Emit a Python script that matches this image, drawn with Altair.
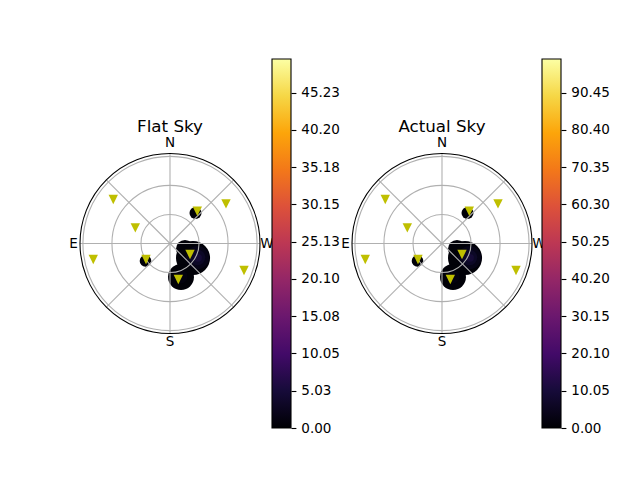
import math
import altair as alt
import pandas as pd

# ---------------- data ----------------
TITLES = ["Flat Sky", "Actual Sky"]
CB_MAX = [49.75, 99.5]
CB_LABELS = [
    ["0.00", "5.03", "10.05", "15.08", "20.10", "25.13", "30.15", "35.18", "40.20", "45.23"],
    ["0.00", "10.05", "20.10", "30.15", "40.20", "50.25", "60.30", "70.35", "80.40", "90.45"],
]
DIR_LABELS = ["N", "E", "S", "W"]
DIR_AZ = [0, 90, 180, 270]
GRID_R = [30, 60, 90]
GRID_AZ = [0, 45, 90, 135, 180, 225, 270, 315]
RMAX = 93.0

# marker positions (azimuth deg, zenith deg)
SAT_AZ = [52.2, 65.8, 101.8, 123.7, 319.8, 305.3, 241.2, 193.0, 250.0]
SAT_ZEN = [74.2, 39.3, 81.0, 29.8, 43.7, 70.9, 23.6, 38.2, 81.4]

# filled contour regions (azimuth deg, zenith deg, radius deg, level)
BLOB_AZ = [320.1, 125.5, 237.8, 198.2, 249.9, 198.0, 243.0, 243.0, 243.0]
BLOB_ZEN = [41.1, 31.1, 28.1, 36.4, 16.5, 36.0, 31.9, 31.9, 32.5]
BLOB_RAD = [6.2, 6.0, 17.6, 13.4, 9.3, 7.0, 12.0, 8.0, 4.0]
BLOB_VAL = [
    [0.4, 0.4, 0.4, 0.4, 0.4, 1.2, 2.0, 3.3, 4.6],
    [0.8, 0.8, 0.8, 0.8, 0.8, 2.4, 4.0, 6.6, 9.2],
]

INFERNO = ["#000004", "#160b39", "#420a68", "#6a176e", "#932667", "#bc3754",
           "#dd513a", "#f37819", "#fca50a", "#f6d746", "#fcffa4"]

# ---------------- layout ----------------
FONT = "DejaVu Sans"
PW, PH = 251, 369          # polar panel
CBW = 19                   # colorbar width
RPX = 90.0                 # outer circle radius in px
K = RPX / RMAX             # px per degree
CX = [149, 151]            # centre offset from panel left, per panel
DIR_PAD_PX = [100.5, 96.5, 98.0, 97.0]   # label distance from centre (N, E, S, W)
TITLE_PX = 112.0

ys = alt.Scale(domain=[-PH / 2 / K, PH / 2 / K], nice=False, zero=False)
# Vega circle symbol: radius = sqrt(size)/2
ss = alt.Scale(type="pow", exponent=2, domain=[0, RMAX], range=[0, (2 * RPX) ** 2],
               zero=True, nice=False)

XCALC = "-datum.r*sin(datum.az*PI/180)"
YCALC = "datum.r*cos(datum.az*PI/180)"


def polar_panel(i):
    xs = alt.Scale(domain=[-CX[i] / K, (PW - CX[i]) / K], nice=False, zero=False)
    blobs = pd.DataFrame({"az": BLOB_AZ, "r": BLOB_ZEN, "rad": BLOB_RAD, "v": BLOB_VAL[i]})
    sats = pd.DataFrame({"az": SAT_AZ, "r": SAT_ZEN})
    rings = pd.DataFrame({"rad": GRID_R})
    frame = pd.DataFrame({"rad": [RMAX]})
    spokes = pd.DataFrame({"az": GRID_AZ})
    dirs = pd.DataFrame({"az": DIR_AZ, "lab": DIR_LABELS, "r": [p / K for p in DIR_PAD_PX]})
    title = pd.DataFrame({"t": [TITLES[i]]})

    blob_layer = alt.Chart(blobs).transform_calculate(x=XCALC, y=YCALC).mark_point(
        shape="circle", filled=True, opacity=1, strokeWidth=0
    ).encode(
        x=alt.X("x:Q", scale=xs, axis=None),
        y=alt.Y("y:Q", scale=ys, axis=None),
        size=alt.Size("rad:Q", scale=ss, legend=None),
        color=alt.Color("v:Q", scale=alt.Scale(scheme="inferno", domain=[0, CB_MAX[i]]), legend=None),
    )

    ring_layer = alt.Chart(rings).transform_calculate(x="0", y="0").mark_point(
        shape="circle", filled=False, color="#b0b0b0", strokeWidth=1.1, opacity=1
    ).encode(
        x=alt.X("x:Q", scale=xs, axis=None),
        y=alt.Y("y:Q", scale=ys, axis=None),
        size=alt.Size("rad:Q", scale=ss, legend=None),
    )

    spoke_layer = alt.Chart(spokes).transform_calculate(
        x0="0", y0="0",
        x1=f"-{RMAX}*sin(datum.az*PI/180)", y1=f"{RMAX}*cos(datum.az*PI/180)"
    ).mark_rule(color="#b0b0b0", strokeWidth=1.1).encode(
        x=alt.X("x0:Q", scale=xs, axis=None),
        y=alt.Y("y0:Q", scale=ys, axis=None),
        x2="x1:Q", y2="y1:Q",
    )

    frame_layer = alt.Chart(frame).transform_calculate(x="0", y="0").mark_point(
        shape="circle", filled=False, color="black", strokeWidth=1.1, opacity=1
    ).encode(
        x=alt.X("x:Q", scale=xs, axis=None),
        y=alt.Y("y:Q", scale=ys, axis=None),
        size=alt.Size("rad:Q", scale=ss, legend=None),
    )

    sat_layer = alt.Chart(sats).transform_calculate(x=XCALC, y=YCALC).mark_point(
        shape="M-1,-1L1,-1L0,1Z", filled=True, color="#bfbf00", opacity=1, size=88, strokeWidth=0
    ).encode(
        x=alt.X("x:Q", scale=xs, axis=None),
        y=alt.Y("y:Q", scale=ys, axis=None),
    )

    dir_layer = alt.Chart(dirs).transform_calculate(x=XCALC, y=YCALC).mark_text(
        font=FONT, fontSize=13.5, color="black", align="center", baseline="middle"
    ).encode(
        x=alt.X("x:Q", scale=xs, axis=None),
        y=alt.Y("y:Q", scale=ys, axis=None),
        text="lab:N",
    )

    title_layer = alt.Chart(title).transform_calculate(x="0", y=f"{TITLE_PX / K}").mark_text(
        font=FONT, fontSize=16.7, color="black", align="center", baseline="alphabetic"
    ).encode(
        x=alt.X("x:Q", scale=xs, axis=None),
        y=alt.Y("y:Q", scale=ys, axis=None),
        text="t:N",
    )

    return alt.layer(
        blob_layer, ring_layer, spoke_layer, frame_layer, sat_layer, dir_layer, title_layer
    ).properties(width=PW, height=PH)


def colorbar(i):
    df = pd.DataFrame({"lo": [0.0], "hi": [CB_MAX[i]]})
    n = len(INFERNO) - 1
    grad = alt.Gradient(
        gradient="linear",
        stops=[alt.GradientStop(offset=j / n, color=c) for j, c in enumerate(INFERNO)],
        x1=0, x2=0, y1=1, y2=0,
    )
    return alt.Chart(df).mark_rect(fill=grad, stroke="black", strokeWidth=1.1).encode(
        x=alt.value(0), x2=alt.value(CBW),
        y=alt.Y("lo:Q", scale=alt.Scale(domain=[0, CB_MAX[i]], nice=False, zero=True),
                axis=alt.Axis(orient="right", values=[float(s) for s in CB_LABELS[i]], format=".2f",
                              title=None, grid=False, domain=False, tickColor="black", tickSize=4.9,
                              tickWidth=1.1, labelPadding=4.9, labelColor="black", labelFont=FONT,
                              labelFontSize=13.5)),
        y2="hi:Q",
    ).properties(width=CBW, height=PH)


chart = alt.hconcat(
    polar_panel(0), colorbar(0), polar_panel(1), colorbar(1), spacing=0, bounds="flush"
).resolve_scale(color="independent").properties(
    padding={"left": 13, "top": 50, "right": 0, "bottom": 0},
    background="white",
).configure_view(stroke="transparent", strokeWidth=0)

chart.save("out.html", embed_options={"renderer": "svg", "actions": False})
